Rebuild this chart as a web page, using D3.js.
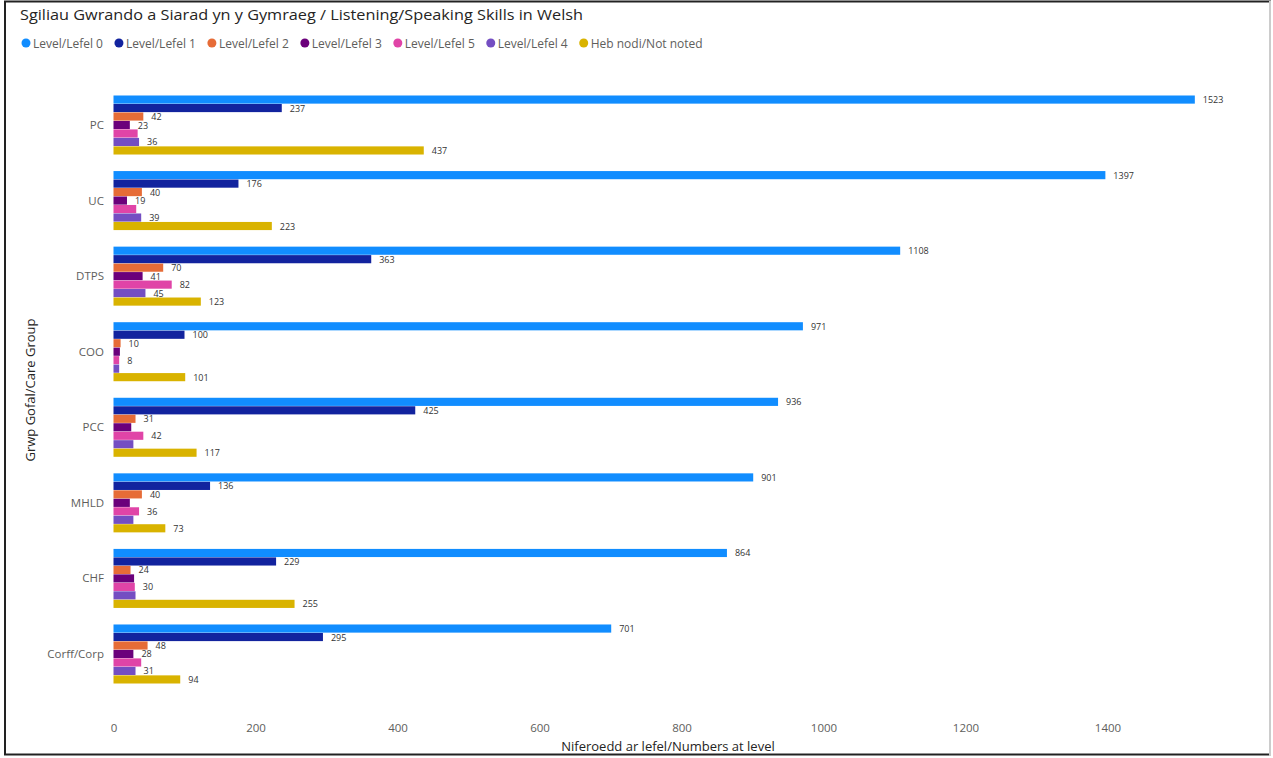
<!DOCTYPE html>
<html>
<head>
<style>
    body { margin: 0; background: #fff; }
    text { font-family: "Open Sans", sans-serif; }
</style>
</head>
<body>
<svg id="chart" width="1273" height="758"></svg>
<script src="https://d3js.org/d3.v7.min.js"></script>
<script>
    // groups, top to bottom
    const groups = ["PC", "UC", "DTPS", "COO", "PCC", "MHLD", "CHF", "Corff/Corp"];
    // series in legend / bar order
    const seriesNames = ["Level/Lefel 0", "Level/Lefel 1", "Level/Lefel 2", "Level/Lefel 3",
                         "Level/Lefel 5", "Level/Lefel 4", "Heb nodi/Not noted"];
    const level0 = [1523, 1397, 1108, 971, 936, 901, 864, 701];
    const level1 = [237, 176, 363, 100, 425, 136, 229, 295];
    const level2 = [42, 40, 70, 10, 31, 40, 24, 48];
    const level3 = [23, 19, 41, 9, 25, 23, 29, 28];
    const level5 = [34, 32, 82, 8, 42, 36, 30, 39];
    const level4 = [36, 39, 45, 8, 28, 28, 31, 31];
    const notNoted = [437, 223, 123, 101, 117, 73, 255, 94];
    const xTicks = [0, 200, 400, 600, 800, 1000, 1200, 1400];

    const seriesValues = [level0, level1, level2, level3, level5, level4, notNoted];
    const colors = ["#118DFF", "#12239E", "#E66C37", "#6B007B", "#E044A7", "#744EC2", "#D9B300"];

    const svg = d3.select("#chart");

    // frame
    svg.append("rect").attr("x", 5).attr("y", 1.5).attr("width", 1265).attr("height", 753)
        .attr("fill", "#fff").attr("stroke", "#222").attr("stroke-width", 2);
    svg.append("line").attr("x1", 1270).attr("x2", 1270).attr("y1", 1).attr("y2", 756)
        .attr("stroke", "#ccc").attr("stroke-width", 2);

    svg.append("text").attr("x", 20).attr("y", 20)
        .attr("font-size", 15).attr("fill", "#252423")
        .attr("textLength", 563).attr("lengthAdjust", "spacingAndGlyphs")
        .text("Sgiliau Gwrando a Siarad yn y Gymraeg / Listening/Speaking Skills in Welsh");

    // legend
    let lx = 26;
    seriesNames.forEach((name, i) => {
        let g = svg.append("g").attr("transform", "translate(" + lx + ",43)");
        g.append("circle").attr("r", 4.5).attr("fill", colors[i]);
        let t = g.append("text").attr("x", 7).attr("y", 4.5)
            .attr("font-size", 12).attr("fill", "#605E5C").text(name);
        lx += 7 + t.node().getComputedTextLength() + 16;
    });

    const x = d3.scaleLinear().domain([0, 1600]).range([113.5, 1249.5]);
    const y = d3.scaleBand().domain(groups).range([87.6, 691.4])
        .paddingInner(0.21).paddingOuter(0.1);
    const ySub = d3.scaleBand().domain(d3.range(seriesNames.length))
        .range([0, y.bandwidth()]).padding(0.04);

    // category axis
    svg.append("g").selectAll("text").data(groups).enter().append("text")
        .attr("x", 104).attr("y", (d) => y(d) + y.bandwidth() / 2 + 4)
        .attr("text-anchor", "end").attr("font-size", 11.5).attr("fill", "#605E5C")
        .text((d) => d);

    // value axis
    let xAxis = svg.append("g").attr("transform", "translate(0,724)")
        .call(d3.axisBottom(x).tickValues(xTicks).tickFormat(d3.format("d")).tickSize(0).tickPadding(0));
    xAxis.select(".domain").remove();
    xAxis.selectAll("text").attr("font-size", 11.5).attr("fill", "#605E5C")
        .attr("font-family", "Open Sans, sans-serif");

    svg.append("text").attr("x", 668).attr("y", 751).attr("text-anchor", "middle")
        .attr("font-size", 13).attr("fill", "#252423").text("Niferoedd ar lefel/Numbers at level");
    svg.append("text").attr("transform", "translate(35,390) rotate(-90)").attr("text-anchor", "middle")
        .attr("font-size", 13).attr("fill", "#252423").text("Grwp Gofal/Care Group");

    // bars
    const body = svg.append("g");
    const labelLayer = svg.append("g");
    groups.forEach((grp, gi) => {
        let shown = [];
        seriesValues.forEach((vals, si) => {
            let v = vals[gi];
            let top = y(grp) + ySub(si);
            body.append("rect")
                .attr("x", x(0)).attr("y", top)
                .attr("width", x(v) - x(0)).attr("height", ySub.bandwidth())
                .attr("fill", colors[si]);
            // data label, hidden when it collides with one already drawn
            let t = labelLayer.append("text")
                .attr("x", x(v) + 8).attr("y", top + ySub.bandwidth() / 2 + 3.5)
                .attr("font-size", 9).attr("fill", "#333").text(v);
            let w = t.node().getComputedTextLength();
            let box = { x0: x(v) + 8 - 1.5, x1: x(v) + 8 + w + 1.5,
                        y0: top + ySub.bandwidth() / 2 - 5.5, y1: top + ySub.bandwidth() / 2 + 5.5 };
            let hit = shown.some((b) => b.x0 < box.x1 && box.x0 < b.x1 && b.y0 < box.y1 && box.y0 < b.y1);
            if (hit) t.remove(); else shown.push(box);
        });
    });
</script>
</body>
</html>
